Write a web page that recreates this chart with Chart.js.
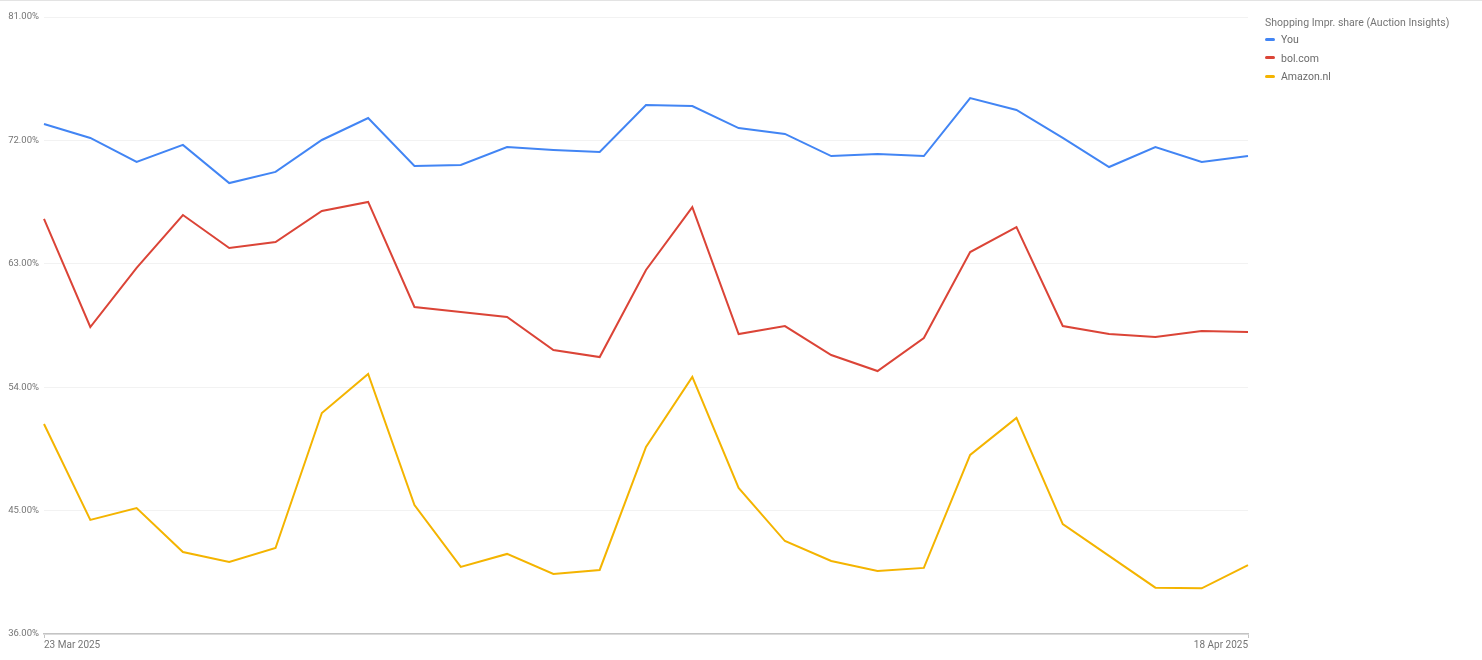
<!DOCTYPE html>
<html>
<head>
<meta charset="utf-8">
<script src="https://cdn.jsdelivr.net/npm/chart.js@4"></script>
<style>
    html, body { margin: 0; padding: 0; background: #fff; }
    body { width: 1482px; height: 660px; position: relative; overflow: hidden; font-family: Roboto, "Noto Sans", sans-serif; }
    .top-rule { position: absolute; left: 0; top: 0; width: 1482px; height: 1px; background: #e3e3e3; }
    #wrap { position: absolute; left: 0; top: 0; width: 1482px; height: 660px; }
    .legend { position: absolute; left: 1265px; top: 15px; font-size: 10.5px; color: #757575; }
    .legend .title { height: 15px; line-height: 15px; margin-bottom: 1px; }
    .legend .item { height: 18.5px; line-height: 18.5px; color: #6b6b6b; }
    .legend .mark { display: inline-block; width: 10px; height: 3px; border-radius: 2px; vertical-align: middle; margin-right: 6px; position: relative; top: -1px; }
</style>
</head>
<body>
<div class="top-rule"></div>
<div id="wrap"><canvas id="lineChart"></canvas></div>
<div class="legend" id="legend"></div>
<script>
    // 23 Mar 2025 .. 18 Apr 2025, daily
    var dates = ['23 Mar 2025', '24 Mar 2025', '25 Mar 2025', '26 Mar 2025', '27 Mar 2025', '28 Mar 2025', '29 Mar 2025',
        '30 Mar 2025', '31 Mar 2025', '1 Apr 2025', '2 Apr 2025', '3 Apr 2025', '4 Apr 2025', '5 Apr 2025',
        '6 Apr 2025', '7 Apr 2025', '8 Apr 2025', '9 Apr 2025', '10 Apr 2025', '11 Apr 2025', '12 Apr 2025',
        '13 Apr 2025', '14 Apr 2025', '15 Apr 2025', '16 Apr 2025', '17 Apr 2025', '18 Apr 2025'];

    var youShare = [73.2, 72.18, 70.43, 71.67, 68.89, 69.7, 72.03, 73.63, 70.13, 70.21, 71.52, 71.3, 71.15, 74.58,
        74.51, 72.9, 72.47, 70.86, 71.01, 70.86, 75.09, 74.22, 72.18, 70.06, 71.52, 70.43, 70.86];

    var bolShare = [66.27, 58.39, 62.7, 66.56, 64.15, 64.59, 66.85, 67.51, 59.85, 59.49, 59.12, 56.71, 56.2, 62.55,
        67.14, 57.88, 58.46, 56.35, 55.18, 57.59, 63.86, 65.68, 58.46, 57.88, 57.66, 58.1, 58.03];

    var amazonShare = [51.32, 44.32, 45.19, 41.98, 41.25, 42.27, 52.12, 54.96, 45.41, 40.89, 41.84, 40.38, 40.67, 49.64,
        54.75, 46.65, 42.78, 41.33, 40.6, 40.82, 49.06, 51.76, 44.02, 41.7, 39.38, 39.33, 41.03];

    var yTicks = [36, 45, 54, 63, 72, 81];

    var legendTitle = 'Shopping Impr. share (Auction Insights)';

    var series = [
        {label: 'You', data: youShare, color: '#4285F4'},
        {label: 'bol.com', data: bolShare, color: '#DB4437'},
        {label: 'Amazon.nl', data: amazonShare, color: '#F4B400'},
    ];

    var lastIdx = dates.length - 1;

    const ctx = document.getElementById('lineChart');
    const lineChart = new Chart(ctx, {
        type: 'line',
        data: {
            labels: dates,
            datasets: series.map(function (s) {
                return {
                    label: s.label,
                    data: s.data,
                    borderColor: s.color,
                    backgroundColor: s.color,
                    borderWidth: 2,
                    pointRadius: 0,
                    pointHoverRadius: 0,
                    tension: 0,
                    fill: false,
                };
            })
        },
        options: {
            responsive: true,
            maintainAspectRatio: false,
            animation: false,
            layout: {
                padding: {left: 0, right: 234, top: 17, bottom: 0}
            },
            plugins: {
                legend: {display: false},
                tooltip: {enabled: false},
            },
            scales: {
                x: {
                    type: 'category',
                    offset: false,
                    afterFit: function (scale) { scale.height = 26; },
                    border: {display: true, color: '#c4c4c4', width: 1.5},
                    grid: {
                        drawOnChartArea: false,
                        drawTicks: true,
                        tickLength: 4,
                        color: function (c) {
                            return (c.index === 0 || c.index === lastIdx) ? '#c4c4c4' : 'rgba(0,0,0,0)';
                        },
                    },
                    ticks: {
                        autoSkip: false,
                        maxRotation: 0,
                        align: 'inner',
                        padding: 1,
                        color: '#757575',
                        font: {family: 'Roboto', size: 10},
                        callback: function (value, index) {
                            return (index === 0 || index === lastIdx) ? dates[index] : '';
                        },
                    },
                },
                y: {
                    min: yTicks[0],
                    max: yTicks[yTicks.length - 1],
                    afterFit: function (scale) { scale.width = 44; },
                    afterBuildTicks: function (scale) {
                        scale.ticks = yTicks.map(function (v) { return {value: v}; });
                    },
                    border: {display: false},
                    grid: {
                        color: '#f2f2f2',
                        drawTicks: false,
                    },
                    ticks: {
                        padding: 5,
                        color: '#757575',
                        font: {family: 'Roboto', size: 9.5},
                        callback: function (value) {
                            return Number(value).toFixed(2) + '%';
                        },
                    },
                },
            },
        },
    });

    // html legend
    var legendEl = document.getElementById('legend');
    var html = '<div class="title">' + legendTitle + '</div>';
    series.forEach(function (s) {
        html += '<div class="item"><span class="mark" style="background:' + s.color + '"></span>' + s.label + '</div>';
    });
    legendEl.innerHTML = html;
</script>
</body>
</html>
